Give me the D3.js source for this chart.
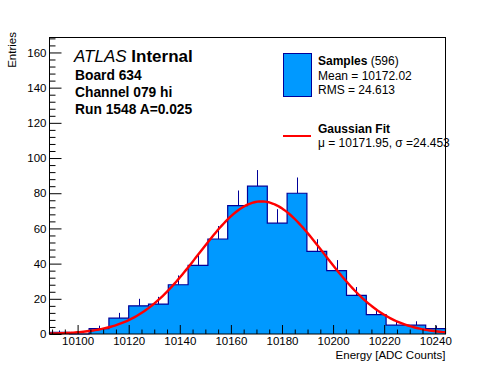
<!DOCTYPE html>
<html>
<head>
<meta charset="utf-8">
<script src="https://cdn.jsdelivr.net/npm/d3@7"></script>
<style>
  body { margin: 0; background: #fff; }
  text { font-family: "Liberation Sans", Arial, Helvetica, sans-serif; }
</style>
</head>
<body>
<div id="chart"></div>
<script>
(function() {

    // histogram: 20 bins between xMin and xMax
    const xMin = 10089
    const xMax = 10244
    const counts = [1, 0, 3, 9, 16, 17, 28, 39, 54, 73, 84, 63, 80, 47, 36, 22, 11, 5, 5, 3]
    const xTicks = [10100, 10120, 10140, 10160, 10180, 10200, 10220, 10240]
    const yTicks = [0, 20, 40, 60, 80, 100, 120, 140, 160]
    const yMax = 168.5

    // fit results
    const nEntries = 596
    const fitMu = 10171.95
    const fitSigma = 24.453

    const infoLines = ["Board 634", "Channel 079 hi", "Run 1548 A=0.025"]

    const W = 496, H = 372
    const frame = {left: 49.5, right: 445.5, top: 37.5, bottom: 334}

    let svg = d3.select("#chart").append("svg")
                .attr("width", W)
                .attr("height", H)

    let x = d3.scaleLinear().domain([xMin, xMax]).range([frame.left, frame.right])
    let y = d3.scaleLinear().domain([0, yMax]).range([frame.bottom, frame.top])

    const binW = (xMax - xMin) / counts.length
    let bins = counts.map((c, i) => ({x0: xMin + i * binW, c: c}))
    let stepPts = bins.concat([{x0: xMax, c: counts[counts.length - 1]}])

    // error bars (only upper half shows above the fill)
    svg.append("g").selectAll("line")
        .data(bins.filter(d => d.c > 0))
        .join("line")
        .attr("x1", d => Math.round(x(d.x0 + binW / 2)) + 0.5)
        .attr("x2", d => Math.round(x(d.x0 + binW / 2)) + 0.5)
        .attr("y1", d => y(d.c))
        .attr("y2", d => y(d.c + Math.sqrt(d.c)))
        .attr("stroke", "#000099")
        .attr("stroke-width", 1)

    // filled histogram
    let area = d3.area()
        .x(d => x(d.x0))
        .y0(y(0))
        .y1(d => y(d.c))
        .curve(d3.curveStepAfter)

    svg.append("path")
        .datum(stepPts)
        .attr("d", area)
        .attr("fill", "#0099ff")

    let outline = d3.line()
        .x(d => x(d.x0))
        .y(d => y(d.c))
        .curve(d3.curveStepAfter)

    svg.append("path")
        .datum([{x0: xMin, c: 0}].concat(stepPts).concat([{x0: xMax, c: 0}]))
        .attr("d", outline)
        .attr("fill", "none")
        .attr("stroke", "#000099")
        .attr("stroke-width", 1.2)

    // gaussian fit curve
    const amp = nEntries * binW / (fitSigma * Math.sqrt(2 * Math.PI))
    let gauss = v => amp * Math.exp(-0.5 * Math.pow((v - fitMu) / fitSigma, 2))
    let fitX = d3.range(xMin, xMax + 0.01, (xMax - xMin) / 200)

    svg.append("path")
        .datum(fitX)
        .attr("d", d3.line().x(d => x(d)).y(d => y(gauss(d))))
        .attr("fill", "none")
        .attr("stroke", "#ff0000")
        .attr("stroke-width", 2.4)

    // frame
    svg.append("rect")
        .attr("x", frame.left)
        .attr("y", frame.top)
        .attr("width", frame.right - frame.left)
        .attr("height", frame.bottom - frame.top)
        .attr("fill", "none")
        .attr("stroke", "#000")

    // x axis
    let xMinor = d3.range(10090, xMax, 5).filter(v => v % 20 != 0)
    svg.append("g")
        .attr("transform", "translate(0," + frame.bottom + ")")
        .call(d3.axisBottom(x).tickValues(xMinor).tickSize(-4.5).tickFormat(""))
        .call(g => g.select(".domain").remove())
    svg.append("g")
        .attr("class", "xaxis")
        .attr("transform", "translate(0," + frame.bottom + ")")
        .call(d3.axisBottom(x).tickValues(xTicks).tickSize(-9).tickPadding(3).tickFormat(d3.format("d")))
        .call(g => g.select(".domain").remove())

    // y axis
    let yMinor = d3.range(0, yMax, 4).filter(v => v % 20 != 0)
    svg.append("g")
        .attr("transform", "translate(" + frame.left + ",0)")
        .call(d3.axisLeft(y).tickValues(yMinor).tickSize(-6).tickFormat(""))
        .call(g => g.select(".domain").remove())
    svg.append("g")
        .attr("class", "yaxis")
        .attr("transform", "translate(" + frame.left + ",0)")
        .call(d3.axisLeft(y).tickValues(yTicks).tickSize(-12).tickPadding(3))
        .call(g => g.select(".domain").remove())

    svg.selectAll(".xaxis text, .yaxis text")
        .attr("font-family", "Liberation Sans, Arial, sans-serif")
        .attr("font-size", 11.5)
        .attr("fill", "#000")
    svg.selectAll(".tick line").attr("stroke", "#000")

    // axis titles
    svg.append("text")
        .attr("x", frame.right)
        .attr("y", 359)
        .attr("text-anchor", "end")
        .attr("font-size", 11.5)
        .text("Energy [ADC Counts]")

    svg.append("text")
        .attr("transform", "translate(16,32) rotate(-90)")
        .attr("text-anchor", "end")
        .attr("font-size", 11.5)
        .text("Entries")

    // ATLAS label
    let atlas = svg.append("text")
        .attr("x", 74)
        .attr("y", 62)
        .attr("font-size", 17)
    atlas.append("tspan").attr("font-style", "italic").text("ATLAS ")
    atlas.append("tspan").attr("font-weight", "bold").text("Internal")

    svg.append("g").selectAll("text")
        .data(infoLines)
        .join("text")
        .attr("x", 75)
        .attr("y", (d, i) => 80 + i * 17)
        .attr("font-size", 13.8)
        .attr("font-weight", "bold")
        .text(d => d)

    // legend
    let leg = svg.append("g")
    leg.append("rect")
        .attr("x", 283.5).attr("y", 53.5)
        .attr("width", 28).attr("height", 43)
        .attr("fill", "#0099ff")
        .attr("stroke", "#000099")
    let t1 = leg.append("text").attr("x", 318).attr("y", 65).attr("font-size", 12)
    t1.append("tspan").attr("font-weight", "bold").text("Samples")
    t1.append("tspan").text(" (" + nEntries + ")")
    leg.append("text").attr("x", 318).attr("y", 79.5).attr("font-size", 12)
        .text("Mean = 10172.02")
    leg.append("text").attr("x", 318).attr("y", 93.5).attr("font-size", 12)
        .text("RMS = 24.613")

    leg.append("line")
        .attr("x1", 283).attr("x2", 311)
        .attr("y1", 136).attr("y2", 136)
        .attr("stroke", "#ff0000")
        .attr("stroke-width", 2)
    leg.append("text").attr("x", 318).attr("y", 132.5).attr("font-size", 12)
        .attr("font-weight", "bold")
        .text("Gaussian Fit")
    leg.append("text").attr("x", 318).attr("y", 146.5).attr("font-size", 12)
        .text("\u03bc = " + fitMu.toFixed(2) + ", \u03c3 =" + fitSigma.toFixed(3))

})();
</script>
</body>
</html>
